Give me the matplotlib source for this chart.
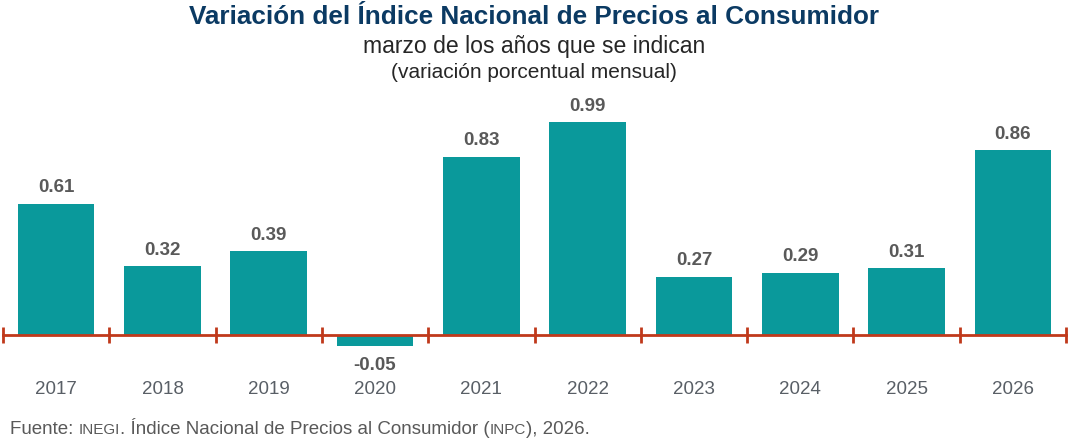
import numpy as np
import matplotlib
matplotlib.use("Agg")
import matplotlib.pyplot as plt
from matplotlib.ticker import FixedLocator

years = ["2017", "2018", "2019", "2020", "2021", "2022", "2023", "2024", "2025", "2026"]
values = [0.61, 0.32, 0.39, -0.05, 0.83, 0.99, 0.27, 0.29, 0.31, 0.86]

plt.rcParams['font.family'] = ['Liberation Sans', 'DejaVu Sans']

teal = "#0A999B"
red = "#C0391B"
grey = "#595959"
navy = "#0B3A63"

fig = plt.figure(figsize=(10.68, 4.43), dpi=100)
# zero line sits at y=335 px, 215 px per unit
ax = fig.add_axes([3/1068, 1 - 378/443, 1063/1068, 279.5/443])
x = np.arange(len(years))
ax.bar(x, values, width=0.72, color=teal, zorder=2)
ax.set_xlim(-0.5, len(years) - 0.5)
ax.set_ylim(-0.2, 1.1)

for s in ["top", "right", "left"]:
    ax.spines[s].set_visible(False)
ax.spines["bottom"].set_position(("data", 0))
ax.spines["bottom"].set_color(red)
ax.spines["bottom"].set_linewidth(2)
ax.spines["bottom"].set_zorder(3)
ax.set_yticks([])
ax.set_xticks([])
ax.xaxis.set_minor_locator(FixedLocator(np.arange(-0.5, len(years), 1.0)))
ax.tick_params(axis="x", which="minor", direction="inout", length=11, width=2, color=red)

for xi, v in zip(x, values):
    if v >= 0:
        ax.text(xi, v + 0.035, f"{v:.2f}", ha="center", va="bottom", fontsize=13.5,
                fontweight="bold", color=grey)
    else:
        ax.text(xi, v - 0.05, f"{v:.2f}", ha="center", va="top", fontsize=13.5,
                fontweight="bold", color=grey)
    ax.text(xi, -0.255, years[xi], ha="center", va="center", fontsize=13.5,
            color="#595F66", clip_on=False)

fig.text(0.5, 1 - 17/443, "Variación del Índice Nacional de Precios al Consumidor",
         ha="center", va="center", fontsize=18.8, fontweight="bold", color=navy)
fig.text(0.5, 1 - 46/443, "marzo de los años que se indican",
         ha="center", va="center", fontsize=16.6, color="#262626")
fig.text(0.5, 1 - 72/443, "(variación porcentual mensual)",
         ha="center", va="center", fontsize=15, color="#262626")

# footer with small caps parts
pieces = [("Fuente: ", 13.5), ("INEGI", 11), (". Índice Nacional de Precios al Consumidor (", 13.5),
          ("INPC", 11), ("), 2026.", 13.5)]
renderer = fig.canvas.get_renderer()
xpos = 10
ybase = 443 - 434
for txt, fs in pieces:
    t = fig.text(xpos / 1068, ybase / 443, txt, ha="left", va="baseline",
                 fontsize=fs, color=grey)
    bb = t.get_window_extent(renderer=renderer)
    xpos += bb.width

fig.savefig("out.png", dpi=100)
